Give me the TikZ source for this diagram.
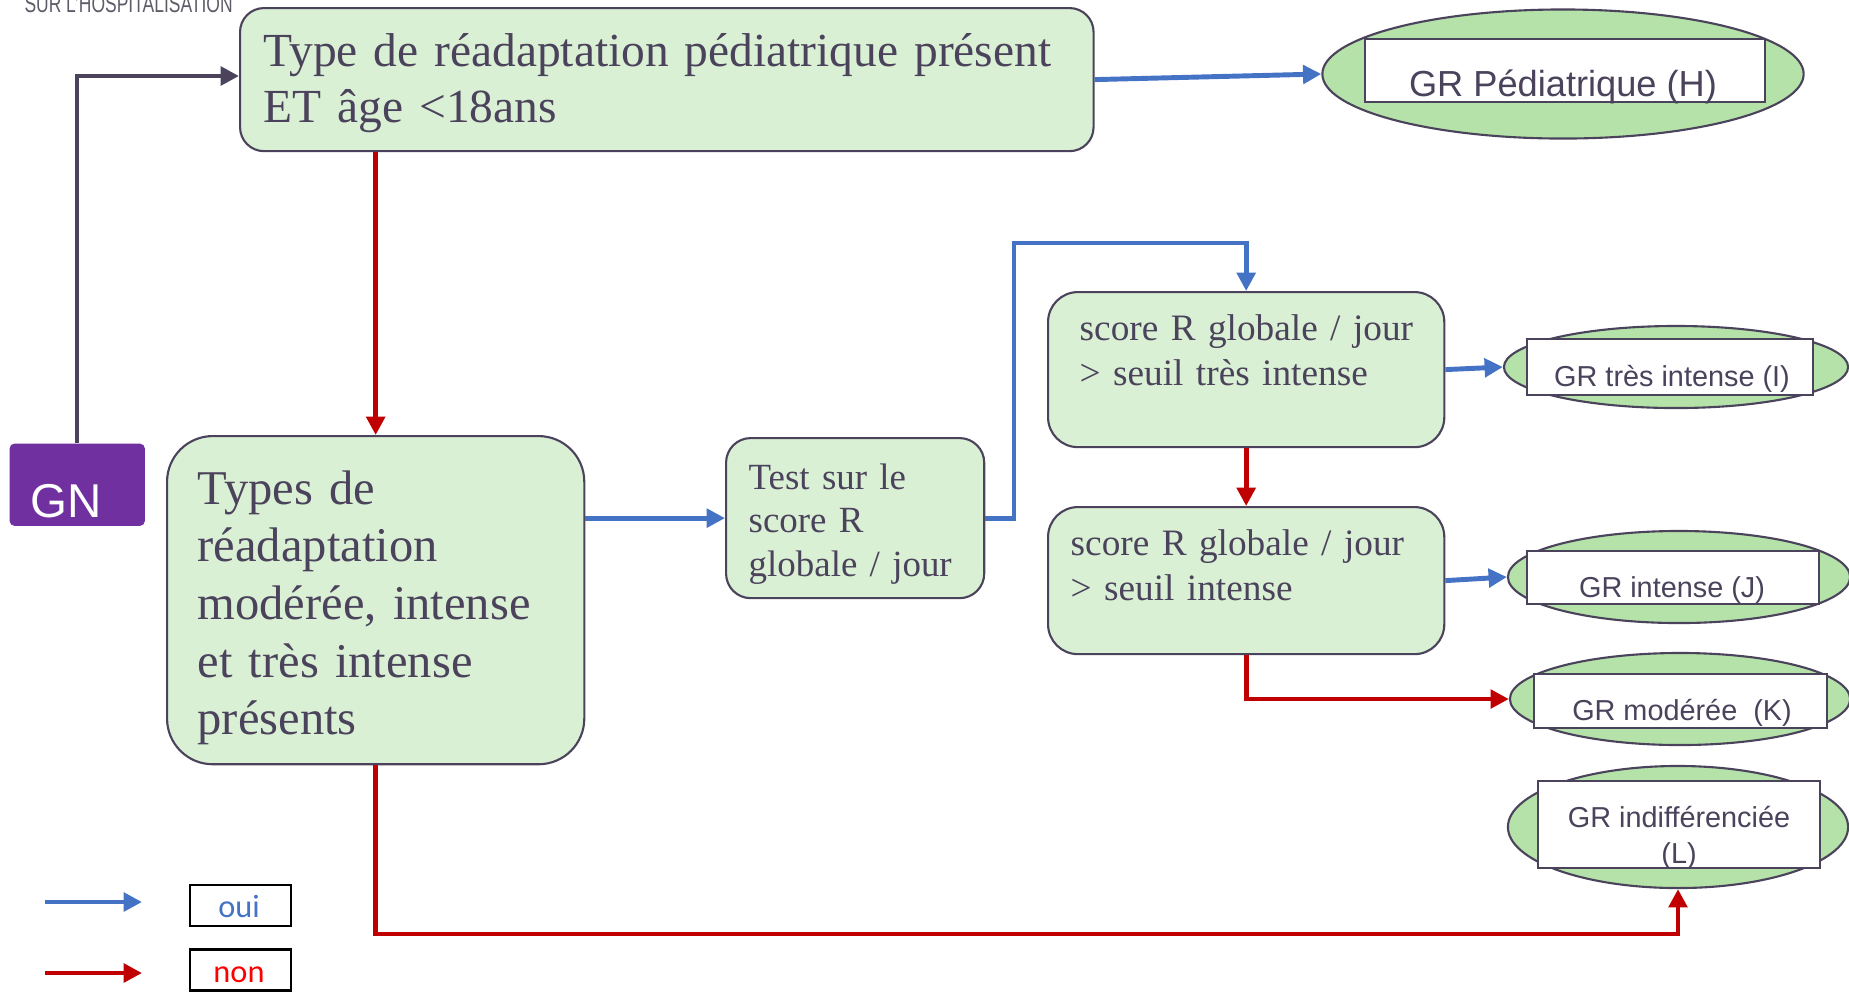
\documentclass[tikz,border=0pt]{standalone}
\usepackage{fontspec}
\setmainfont{Liberation Serif}
\setsansfont{Liberation Sans}
\newfontfamily\legendfont{Carlito}
\usetikzlibrary{shapes.geometric,arrows.meta}

\definecolor{ink}{RGB}{75,67,92}
\definecolor{boxfill}{RGB}{218,240,212}
\definecolor{ovalfill}{RGB}{181,226,169}
\definecolor{ouiblue}{RGB}{68,114,196}
\definecolor{nonred}{RGB}{192,0,0}
\definecolor{gnpurple}{RGB}{112,48,160}
\definecolor{headgrey}{RGB}{95,92,105}

\tikzset{
  stepbox/.style={draw=ink, fill=boxfill, line width=0.6pt, rounded corners=#1,
    inner sep=0pt, anchor=north west},
  stepbox/.default=7pt,
  oval/.style={ellipse, draw=ink, fill=ovalfill, line width=0.6pt, inner sep=0pt},
  tag/.style={draw=ink, fill=white, line width=0.6pt, inner sep=0pt},
  boxtext/.style={anchor=base west, inner sep=0pt, align=left, text=ink},
  tagtext/.style={anchor=base, inner sep=0pt, align=center, text=ink,
    font=\sffamily\fontsize{8.2}{10.2}\selectfont},
  tip/.style={-{Triangle[length=5.2pt,width=5.2pt]}},
  ouiarrow/.style={draw=ouiblue, line width=1.4pt, tip},
  nonarrow/.style={draw=nonred, line width=1.4pt, tip},
  gnarrow/.style={draw=ink, line width=1.4pt, tip},
  legendbox/.style={draw=black, line width=0.7pt, inner sep=0pt,
    minimum width=1.01cm, minimum height=0.41cm},
  legendtext/.style={anchor=base, inner sep=0pt, font=\legendfont\fontsize{9.2}{11}\selectfont},
}

\begin{document}
\begin{tikzpicture}[x=0.01cm,y=-0.01cm]
\useasboundingbox (0,0) rectangle (1849,993);

% header remnant
\node[anchor=base west, inner sep=0pt, text=headgrey, xscale=0.71,
  font=\sffamily\fontsize{7}{8}\selectfont] (header) at (24,12) {SUR L'HOSPITALISATION};

% decision boxes
\node[stepbox=6.8pt, minimum width=8.53cm, minimum height=1.43cm] (top) at (239,7) {};
\node[boxtext, text width=8.3cm, font=\fontsize{13.5}{16.2}\selectfont] (toptxt) at (263,66)
  {Type de réadaptation pédiatrique présent\\ET âge <18ans};

\node[stepbox=13pt, minimum width=4.17cm, minimum height=3.28cm] (b2) at (166,435) {};
\node[boxtext, text width=3.9cm, font=\fontsize{13.8}{16.4}\selectfont] (b2txt) at (197,504)
  {Types de\\réadaptation\\modérée, intense\\et très intense\\présents};

\node[stepbox=7pt, minimum width=2.58cm, minimum height=1.60cm] (test) at (725,437) {};
\node[boxtext, text width=2.4cm, font=\fontsize{10.5}{12.5}\selectfont] (testtxt) at (748,489)
  {Test sur le\\score R\\globale / jour};

\node[stepbox=8.5pt, minimum width=3.96cm, minimum height=1.55cm] (b3) at (1047,291) {};
\node[boxtext, text width=3.7cm, font=\fontsize{10.6}{12.8}\selectfont] (b3txt) at (1079,340)
  {score R globale / jour\\> seuil très intense};

\node[stepbox=8.5pt, minimum width=3.96cm, minimum height=1.47cm] (b4) at (1047,506) {};
\node[boxtext, text width=3.7cm, font=\fontsize{10.6}{12.8}\selectfont] (b4txt) at (1070,555)
  {score R globale / jour\\> seuil intense};

% GN start block
\node[fill=gnpurple, rounded corners=1.3pt, inner sep=0pt, anchor=north west,
  minimum width=1.35cm, minimum height=0.82cm] (gn) at (9,443) {};
\node[anchor=base west, inner sep=0pt, text=white,
  font=\sffamily\fontsize{13.5}{15}\selectfont] (gntxt) at (30,517) {GN};

% outcome groups
\node[oval, minimum width=4.81cm, minimum height=1.29cm] (H) at (1563,74) {};
\node[tag, minimum width=4.0cm, minimum height=0.63cm] (Hbox) at (1565,70.5) {};
\node[tagtext, font=\sffamily\fontsize{10.3}{12}\selectfont] (Htxt) at (1563,96) {GR Pédiatrique (H)};

\node[oval, minimum width=3.44cm, minimum height=0.82cm] (I) at (1676,367) {};
\node[tag, minimum width=2.86cm, minimum height=0.56cm] (Ibox) at (1670,367) {};
\node[tagtext] (Itxt) at (1672,386) {GR très intense (I)};

\node[oval, minimum width=3.42cm, minimum height=0.92cm] (J) at (1679,577) {};
\node[tag, minimum width=2.92cm, minimum height=0.53cm] (Jbox) at (1673,577.5) {};
\node[tagtext] (Jtxt) at (1672,597) {GR intense (J)};

\node[oval, minimum width=3.40cm, minimum height=0.92cm] (K) at (1680,699) {};
\node[tag, minimum width=2.93cm, minimum height=0.54cm] (Kbox) at (1680.5,701) {};
\node[tagtext] (Ktxt) at (1682,720) {GR modérée \ (K)};

\node[oval, minimum width=3.40cm, minimum height=1.22cm] (L) at (1678,827) {};
\node[tag, minimum width=2.82cm, minimum height=0.87cm] (Lbox) at (1679,824.5) {};
% the base of a two-line node sits on its last line
\node[tagtext] (Ltxt) at (1679,863) {GR indifférenciée\\(L)};

% connectors
\coordinate (gnbend) at (77,76);
\draw[gnarrow] (gn.north -| gnbend) -- (gnbend) -- (top.west |- gnbend);

\draw[ouiarrow] (top.east) -- (H.west);
\draw[nonarrow] (b2.north |- top.south) -- (b2.north);
\draw[ouiarrow] (b2.east |- test.west) -- (test.west);

\coordinate (testbend) at (1014,243);
\draw[ouiarrow] (test.east) -| (testbend) -| (b3.north);

\draw[nonarrow] (b3.south) -- (b4.north);
\draw[ouiarrow] (b3.east) -- (I.west);
\draw[ouiarrow] (b4.east) -- (J.west);
\draw[nonarrow] (b4.south) |- (K.west);

\coordinate (lowline) at (0,934);
\draw[nonarrow] (b2.south) -- (b2.south |- lowline) -| (L.south);

% legend
\coordinate (ouiA) at (45,902);
\coordinate (ouiB) at (142,902);
\draw[ouiarrow] (ouiA) -- (ouiB);
\node[legendbox] (ouibox) at (240.5,905.5) {};
\node[legendtext, text=ouiblue] (ouilab) at (239,917) {oui};

\coordinate (nonA) at (45,973);
\coordinate (nonB) at (142,973);
\draw[nonarrow] (nonA) -- (nonB);
\node[legendbox] (nonbox) at (240.5,970) {};
\node[legendtext, text=red] (nonlab) at (239,982) {non};
\end{tikzpicture}
\end{document}
